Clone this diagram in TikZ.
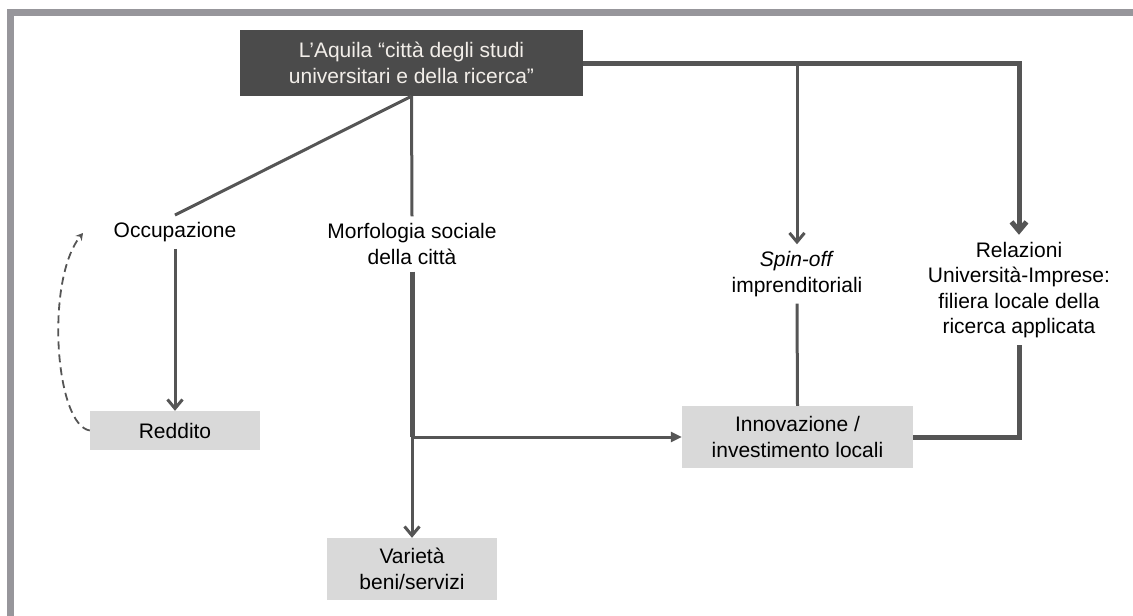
\documentclass[tikz,border=0pt]{standalone}
\usepackage{fontspec}
\setmainfont{Liberation Sans}
\usetikzlibrary{arrows.meta,positioning}
\definecolor{framegrey}{HTML}{97969B}
\definecolor{linegrey}{HTML}{555555}
\definecolor{darkfill}{HTML}{4B4B4B}
\definecolor{lightfill}{HTML}{D9D9D9}
\definecolor{boxtext}{HTML}{F2EEE9}

\begin{document}
\begin{tikzpicture}[x=1pt,y=-1pt,>={Straight Barb[length=9pt,width=15pt]},
        every node/.style={font=\fontsize{21}{25.5}\selectfont,align=center},
        top node/.style={fill=darkfill,text=boxtext,minimum width=343pt,minimum height=66pt,inner sep=0pt},
        grey node/.style={fill=lightfill,minimum width=170pt,minimum height=39pt,inner sep=0pt},
        txt node/.style={inner sep=7pt},
        thin line/.style={draw=linegrey,line width=3pt},
        thick line/.style={draw=linegrey,line width=5pt}]
        \useasboundingbox (0,0) rectangle (1133,616);
        % frame
        \fill[framegrey] (7,9) rectangle (1133,16);
        \fill[framegrey] (7,9) rectangle (14,616);

        \node[top node] (aquila) at (411.5,63) {L’Aquila “città degli studi\\universitari e della ricerca”};
        \node[txt node] (occ) at (175,232) {Occupazione};
        \node[txt node] (morf) at (412,244) {Morfologia sociale\\della città};
        \node[txt node] (spin) at (797,274) {\textit{Spin-off}\\imprenditoriali};
        \node[txt node] (rel) at (1019,290) {Relazioni\\Università-Imprese:\\filiera locale della\\ricerca applicata};
        \node[grey node] (reddito) at (175,430.5) {Reddito};
        \node[grey node,minimum height=62pt] (varieta) at (412,569) {Varietà\\beni/servizi};
        \node[grey node,minimum width=231pt,minimum height=62pt] (innov) at (797.5,437) {Innovazione /\\investimento locali};
        \coordinate (jn) at (412,437);
        \coordinate (sp) at (aquila.east -| spin.north);

        \path[thick line] (aquila.east) -- (aquila.east -| rel.north) [->] -- (rel.north);
        \draw[thin line,->] (sp) -- (spin.north);
        \draw[thin line] (aquila.south) -- (occ.north);
        \draw[thin line] (aquila.south) -- (morf.north);
        \draw[thick line] (morf.south) -- (jn);
        \draw[thin line,->] (jn) -- (varieta.north);
        \draw[thin line,-{Triangle[length=11pt,width=10pt]}] (jn) -- (innov.west);
        \draw[thin line,->] (occ.south) -- (reddito.north);
        \draw[thin line] (spin.south) -- (innov.north);
        \draw[thick line] (rel.south) -- (rel.south |- innov.east) -- (innov.east);
        \draw[linegrey,line width=1.8pt,dash pattern=on 8pt off 5pt,-{Stealth[length=7pt,width=8pt]}]
        (reddito.west) .. controls (55,425) and (45,280) .. (83,233);
\end{tikzpicture}
\end{document}
